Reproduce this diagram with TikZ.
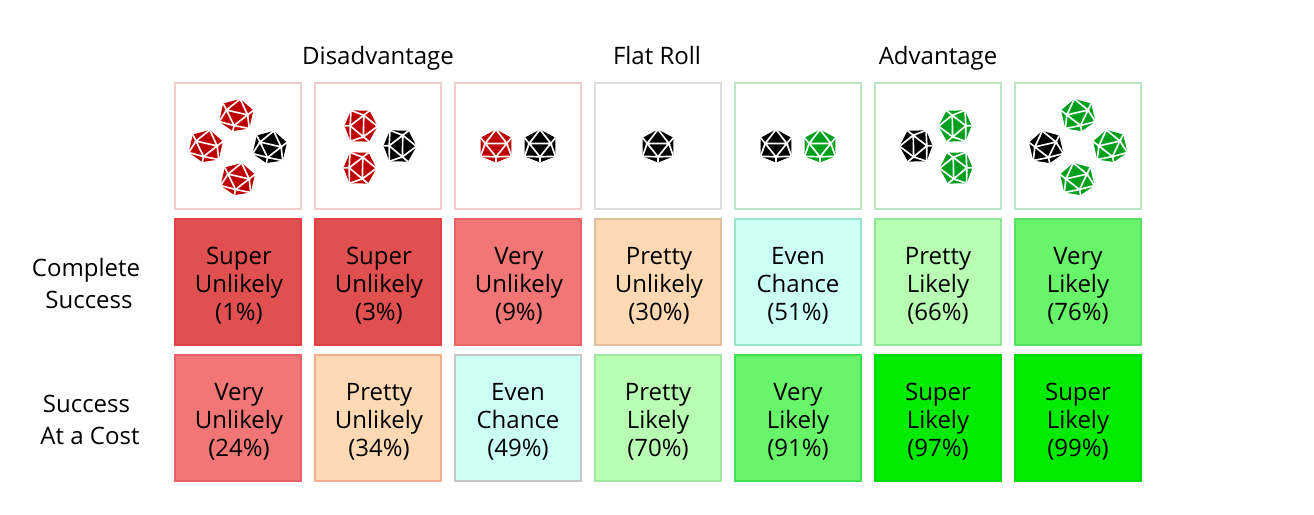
\documentclass[tikz,border=0pt]{standalone}
\usepackage{fontspec}
\setmainfont{Open Sans}
\definecolor{cSU}{HTML}{E05050}
\definecolor{cVU}{HTML}{F37676}
\definecolor{cPU}{HTML}{FFD9B3}
\definecolor{cEC}{HTML}{CCFFF5}
\definecolor{cPL}{HTML}{B8FFB3}
\definecolor{cVL}{HTML}{69F569}
\definecolor{cSL}{HTML}{00EB00}
\definecolor{dieR}{HTML}{BE0000}
\definecolor{dieG}{HTML}{00A01E}
\definecolor{dieK}{HTML}{000000}
\definecolor{hR}{HTML}{F2CCCC}
\definecolor{hK}{HTML}{DDDDDD}
\definecolor{hG}{HTML}{BBE6C4}
\definecolor{bA}{HTML}{DE4045}
\definecolor{bB}{HTML}{E86468}
\definecolor{bC}{HTML}{E0BE9C}
\definecolor{bD}{HTML}{99E6CC}
\definecolor{bE}{HTML}{8FE698}
\definecolor{bF}{HTML}{55E05F}
\definecolor{bG}{HTML}{E8606A}
\definecolor{bH}{HTML}{F4AE90}
\definecolor{bI}{HTML}{C4C8C4}
\definecolor{bJ}{HTML}{A0E6A0}
\definecolor{bK}{HTML}{3DE04D}
\definecolor{bL}{HTML}{00D800}
\tikzset{
  cellbox/.style={draw=#1,line width=2pt,minimum width=126pt,minimum height=126pt,inner sep=0pt,text=black},
  celltext/.style={inner sep=0pt,align=center,text=black,font=\fontsize{24}{28}\selectfont},
  headbox/.style={draw=#1,fill=white,line width=2pt,minimum width=126pt,minimum height=126pt,inner sep=0pt},
  toplabel/.style={anchor=base,font=\fontsize{24}{28}\selectfont,inner sep=0pt,text=black},
  dieline/.style={white,line width=1.65pt}
}
\newcommand{\diceat}[4]{%
\begin{scope}[shift={(#1,#2)},rotate=#3,x=1.03pt,y=-1.03pt]
\coordinate (T) at (0,-16);\coordinate (UL) at (-15,-8);\coordinate (UR) at (15,-8);
\coordinate (LL) at (-15,10);\coordinate (LR) at (15,10);\coordinate (Bt) at (0,16);
\coordinate (A) at (-10.5,-2.5);\coordinate (B) at (10.5,-2.5);\coordinate (C) at (0,10.5);
\fill[#4] (T)--(UR)--(LR)--(Bt)--(LL)--(UL)--cycle;
\draw[dieline] (T)--(A)--(B)--(T) (A)--(C)--(B) (UL)--(A) (UR)--(B) (LL)--(A) (LR)--(B) (LL)--(C)--(LR) (C)--(Bt);
\end{scope}}
\begin{document}
\begin{tikzpicture}[x=1pt,y=-1pt]
\useasboundingbox (0,0) rectangle (1314,514);
\node[toplabel] (h1) at (378,64) {Disadvantage};
\node[toplabel] (h2) at (657,64) {Flat Roll};
\node[toplabel] (h3) at (938,64) {Advantage};
\node[toplabel] (s1) at (86,276) {Complete};
\node[toplabel] (s2) at (89,308) {Success};
\node[toplabel] (s3) at (86.5,412) {Success};
\node[toplabel] (s4) at (90,444) {At a Cost};
\node[headbox=hR] (d1) at (238,146) {};
\node[headbox=hR] (d2) at (378,146) {};
\node[headbox=hR] (d3) at (518,146) {};
\node[headbox=hK] (d4) at (658,146) {};
\node[headbox=hG] (d5) at (798,146) {};
\node[headbox=hG] (d6) at (938,146) {};
\node[headbox=hG] (d7) at (1078,146) {};
\node[cellbox=bA,fill=cSU] (a1) at (238,282) {};
\node[cellbox=bA,fill=cSU] (a2) at (378,282) {};
\node[cellbox=bB,fill=cVU] (a3) at (518,282) {};
\node[cellbox=bC,fill=cPU] (a4) at (658,282) {};
\node[cellbox=bD,fill=cEC] (a5) at (798,282) {};
\node[cellbox=bE,fill=cPL] (a6) at (938,282) {};
\node[cellbox=bF,fill=cVL] (a7) at (1078,282) {};
\node[cellbox=bG,fill=cVU] (b1) at (238,418) {};
\node[cellbox=bH,fill=cPU] (b2) at (378,418) {};
\node[cellbox=bI,fill=cEC] (b3) at (518,418) {};
\node[cellbox=bJ,fill=cPL] (b4) at (658,418) {};
\node[cellbox=bK,fill=cVL] (b5) at (798,418) {};
\node[cellbox=bL,fill=cSL] (b6) at (938,418) {};
\node[cellbox=bL,fill=cSL] (b7) at (1078,418) {};
\node[celltext] (ta1) at (239,285.8) {Super\\Unlikely\\(1\%)};
\node[celltext] (ta2) at (379,285.8) {Super\\Unlikely\\(3\%)};
\node[celltext] (ta3) at (519,285.8) {Very\\Unlikely\\(9\%)};
\node[celltext] (ta4) at (659,285.8) {Pretty\\Unlikely\\(30\%)};
\node[celltext] (ta5) at (798,285.8) {Even\\Chance\\(51\%)};
\node[celltext] (ta6) at (938,285.8) {Pretty\\Likely\\(66\%)};
\node[celltext] (ta7) at (1078,285.8) {Very\\Likely\\(76\%)};
\node[celltext] (tb1) at (239,421.8) {Very\\Unlikely\\(24\%)};
\node[celltext] (tb2) at (379,421.8) {Pretty\\Unlikely\\(34\%)};
\node[celltext] (tb3) at (518,421.8) {Even\\Chance\\(49\%)};
\node[celltext] (tb4) at (658,421.8) {Pretty\\Likely\\(70\%)};
\node[celltext] (tb5) at (798,421.8) {Very\\Likely\\(91\%)};
\node[celltext] (tb6) at (938,421.8) {Super\\Likely\\(97\%)};
\node[celltext] (tb7) at (1078,421.8) {Super\\Likely\\(99\%)};
% dice
\diceat{236.5}{115}{-13}{dieR}
\diceat{206}{146}{-13}{dieR}
\diceat{238}{179}{-13}{dieR}
\diceat{270}{147}{-13}{dieK}
\diceat{361}{126}{-91}{dieR}
\diceat{360}{168}{-91}{dieR}
\diceat{400}{146}{-91}{dieK}
\diceat{496}{146}{0}{dieR}
\diceat{540}{146}{0}{dieK}
\diceat{658}{146}{0}{dieK}
\diceat{776}{146}{0}{dieK}
\diceat{820}{146}{0}{dieG}
\diceat{916}{146}{91}{dieK}
\diceat{955}{126}{91}{dieG}
\diceat{956}{168}{91}{dieG}
\diceat{1046}{147}{13}{dieK}
\diceat{1078}{115}{13}{dieG}
\diceat{1110}{146}{13}{dieG}
\diceat{1077}{179}{13}{dieG}
\end{tikzpicture}
\end{document}
